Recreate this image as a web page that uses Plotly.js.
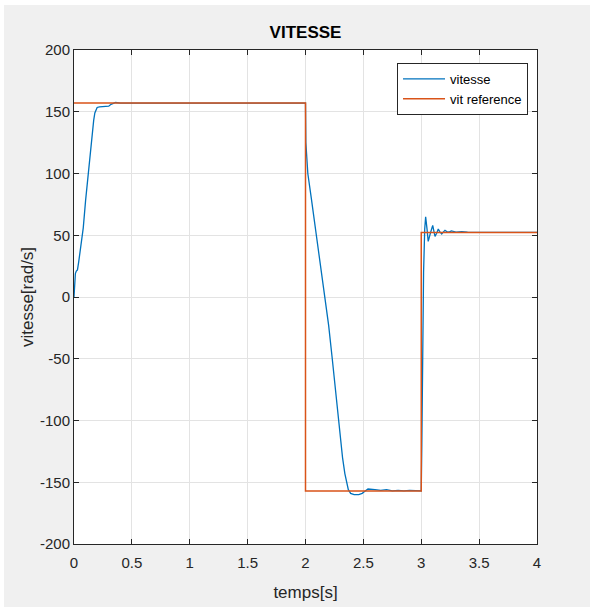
<!DOCTYPE html>
<html>
<head>
<meta charset="utf-8">
<script src="https://cdn.plot.ly/plotly-3.0.1.min.js"></script>
<style>
html,body{margin:0;padding:0;background:#ffffff;}
#chart{position:absolute;left:4px;top:5px;width:586px;height:602px;}
</style>
</head>
<body>
<div id="chart"></div>
<script>
// Measured speed (vitesse)
const tVitesse = [0,0.005,0.012,0.02,0.03,0.04,0.05,0.06,0.07,0.08,0.1,0.12,0.14,0.16,0.17,0.18,0.19,0.2,0.22,0.25,0.28,0.3,0.32,0.34,0.36,0.4,1.0,1.5,2.0,
  2.003,2.01,2.02,2.05,2.092,2.13,2.17,2.2,2.23,2.26,2.283,2.3,2.32,2.34,2.356,2.37,2.39,2.42,2.46,2.49,2.51,2.54,2.6,2.65,2.7,2.75,2.8,2.85,2.9,2.95,3.0,
  3.005,3.012,3.02,3.03,3.038,3.05,3.06,3.08,3.099,3.11,3.119,3.135,3.147,3.16,3.177,3.19,3.205,3.22,3.24,3.26,3.3,3.35,3.4,3.5,4.0];
const yVitesse = [0,10,19,21,22,28,36,40,48,56,78,97,118,135,143,149,152,153.5,154,154,154,154.5,156,157,157.5,157,157,157,157,
  125,110,100,80,51,26,1,-23,-49,-77,-99,-112,-130,-143,-151,-156,-159,-160,-160,-159,-157.5,-155.5,-156,-156.5,-156,-157,-156.5,-157,-156.5,-157,-157,
  -120,-40,20,55,65,55,45,52,58,53,49,52,55,53,51,52.5,54,53,52.5,53.5,52.5,53,52.5,52.3,52.3];
// Reference speed (vit reference)
const tRef = [0,2,2,3,3,4];
const yRef = [157,157,-157,-157,52.3,52.3];
const xTicks = [0,0.5,1,1.5,2,2.5,3,3.5,4];
const xTickText = ['0','0.5','1','1.5','2','2.5','3','3.5','4'];
const yTicks = [-200,-150,-100,-50,0,50,100,150,200];
const yTickText = ['-200','-150','-100','-50','0','50','100','150','200'];

const FONT = '"Liberation Sans Narrow", "Liberation Sans", Arial, sans-serif';
const DARK = '#262626';

const traces = [
  {x: tVitesse, y: yVitesse, type: 'scatter', mode: 'lines', name: 'vitesse',
   line: {color: '#0072BD', width: 1.3}},
  {x: tRef, y: yRef, type: 'scatter', mode: 'lines', name: 'vit reference',
   line: {color: '#D95319', width: 1.5}}
];

const axisCommon = {
  showline: true, linecolor: DARK, linewidth: 1, mirror: 'ticks',
  ticks: 'inside', ticklen: 5, tickcolor: DARK, tickwidth: 1,
  showgrid: true, gridcolor: '#e3e3e3', gridwidth: 1,
  zeroline: false, automargin: false,
  tickfont: {family: FONT, size: 15, color: DARK}
};

const layout = {
  width: 586, height: 602,
  paper_bgcolor: '#f0f0f0', plot_bgcolor: '#ffffff',
  margin: {l: 70, r: 53, t: 45, b: 63},
  showlegend: true,
  title: {text: '<b>VITESSE</b>', font: {family: FONT, size: 17, color: '#000000'},
          x: 0.5, xref: 'paper', y: 1 - 27/602, yref: 'container', yanchor: 'middle'},
  xaxis: Object.assign({}, axisCommon, {
    range: [0, 4], tickvals: xTicks, ticktext: xTickText, ticklabelstandoff: 5,
    title: {text: 'temps[s]', font: {family: FONT, size: 17, color: DARK}, standoff: 16}
  }),
  yaxis: Object.assign({}, axisCommon, {
    range: [-200, 200], tickvals: yTicks, ticktext: yTickText,
    title: {text: 'vitesse[rad/s]', font: {family: FONT, size: 17, color: DARK}, standoff: 2}
  }),
  legend: {x: 0.9806, xanchor: 'right', y: 0.9737, yanchor: 'top', itemwidth: 42,
           bgcolor: '#ffffff', bordercolor: DARK, borderwidth: 1,
           font: {family: FONT, size: 13, color: '#000000'}}
};

Plotly.newPlot('chart', traces, layout, {displayModeBar: false, staticPlot: true});
</script>
</body>
</html>
